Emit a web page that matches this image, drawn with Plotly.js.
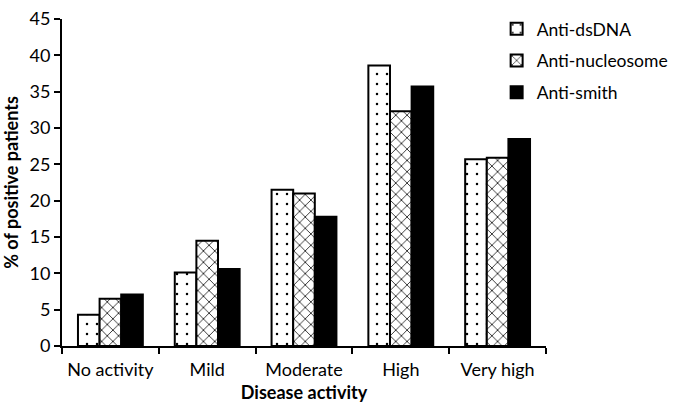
<!DOCTYPE html>
<html>
<head>
<meta charset="utf-8">
<script src="https://cdn.plot.ly/plotly-3.0.1.min.js"></script>
<style>html,body{margin:0;padding:0;background:#fff;}#chart{width:685px;height:408px;}</style>
</head>
<body>
<div id="chart"></div>
<script>
const categories = ["No activity", "Mild", "Moderate", "High", "Very high"];
const seriesNames = ["Anti-dsDNA", "Anti-nucleosome", "Anti-smith"];
const antiDsDNA = [4.3, 10.1, 21.5, 38.6, 25.7];
const antiNucleosome = [6.5, 14.5, 21.0, 32.3, 25.9];
const antiSmith = [7.1, 10.6, 17.8, 35.7, 28.5];
const yTicks = [0, 5, 10, 15, 20, 25, 30, 35, 40, 45];

const FONT = "Lato, Open Sans, sans-serif";
const line = {color: "black", width: 2};
const traces = [
  {type: "bar", name: seriesNames[0], x: categories, y: antiDsDNA, legendgroup: "a",
   marker: {color: "white", line: line, pattern: {shape: ".", fgcolor: "black", bgcolor: "white", size: 10, solidity: 0.05}}},
  {type: "bar", name: seriesNames[1], x: categories, y: antiNucleosome, legendgroup: "b",
   marker: {color: "white", line: line, pattern: {shape: "x", fgcolor: "black", bgcolor: "white", size: 8, solidity: 0.18}}},
  {type: "bar", name: seriesNames[2], x: categories, y: antiSmith, legendgroup: "c",
   marker: {color: "black", line: line}}
];
const layout = {
  width: 685, height: 408,
  margin: {l: 62, r: 86, t: 11, b: 62},
  paper_bgcolor: "white", plot_bgcolor: "white",
  font: {family: FONT, size: 18, color: "black"},
  barmode: "group", bargap: 0.33, bargroupgap: 0,
  showlegend: true,
  legend: {x: 0.898, y: 1.025, xanchor: "left", yanchor: "top", bgcolor: "rgba(0,0,0,0)",
           font: {family: FONT, size: 17.5}, traceorder: "grouped", tracegroupgap: 6, itemwidth: 30},
  xaxis: {type: "category", showline: true, linecolor: "black", linewidth: 2,
          ticks: "outside", tickson: "boundaries", ticklen: 6, tickwidth: 2, tickcolor: "black",
          showgrid: false, zeroline: false, ticklabelstandoff: 6, tickangle: 0,
          tickfont: {family: FONT, size: 18},
          title: {text: "<b>Disease activity</b>", font: {family: FONT, size: 18}, standoff: 8}},
  yaxis: {range: [0, 45], tickvals: yTicks, showline: true, linecolor: "black", linewidth: 2,
          ticks: "outside", ticklen: 6, tickwidth: 2, tickcolor: "black",
          showgrid: false, zeroline: false,
          tickfont: {family: FONT, size: 18},
          title: {text: "<b>% of positive patients</b>", font: {family: FONT, size: 18}, standoff: 8}}
};
Plotly.newPlot("chart", traces, layout, {displayModeBar: false, staticPlot: true});
</script>
</body>
</html>
